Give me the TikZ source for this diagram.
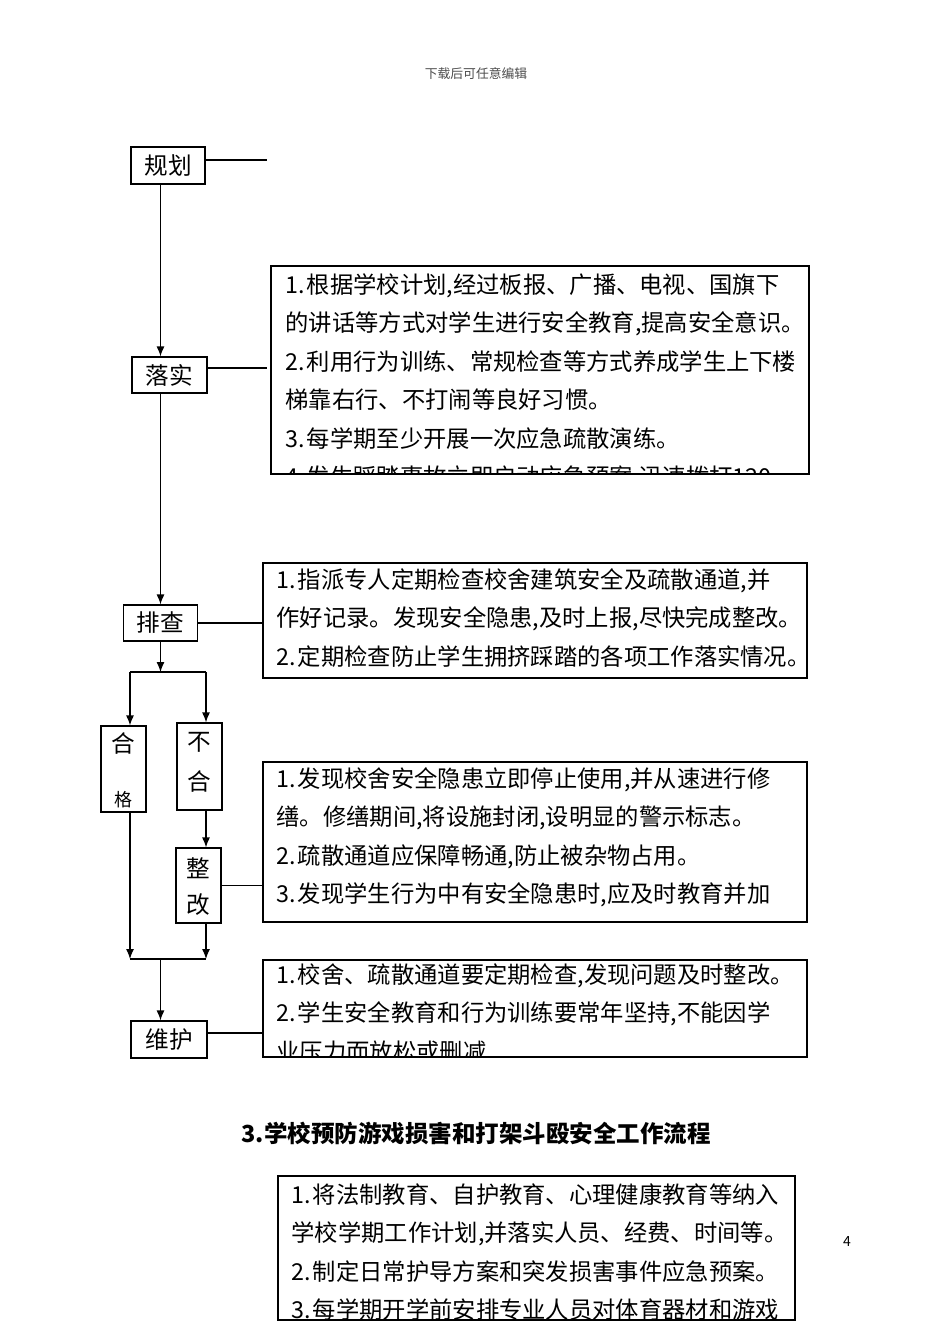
\documentclass[tikz,border=0pt]{standalone}
\usepackage{fontspec}
\usetikzlibrary{arrows.meta}
\newfontfamily\cjk{Noto Sans CJK SC}
\newcommand{\tiao}[1]{#1.\hspace{1pt}}
\begin{document}
\begin{tikzpicture}[>={Latex[length=5pt,width=4pt]}, x=.5pt, y=-.5pt, line width=.6pt,
    kuang/.style={draw, inner sep=0pt, font=\cjk\fontsize{11.8}{12}\selectfont},
    wenkuang/.style={draw, inner sep=0pt},
    wenzi/.style={anchor=north west, inner sep=0pt, align=left, font=\cjk\fontsize{11.65}{19.25}\selectfont},
    zi/.style={inner sep=0pt, font=\cjk\fontsize{11.8}{12}\selectfont}]
\useasboundingbox[fill=white] (0,0) rectangle (950,1344);
\node[text=black!70, font=\cjk\fontsize{6.4}{7}\selectfont] (yemei) at (476,74) {下载后可任意编辑};

% left column
\node[kuang, minimum width=37pt, minimum height=18.5pt] (guihua) at (168,165.5) {规划};
\node[kuang, minimum width=37.5pt, minimum height=18pt] (luoshi) at (169.5,375) {落实};
\node[kuang, minimum width=37pt, minimum height=18pt] (paicha) at (160.5,623) {排查};
\node[kuang, minimum width=22.5pt, minimum height=43pt] (hege) at (123.5,769) {};
\node[zi] (hege1) at (123.5,743) {合};
\node[zi, font=\cjk\fontsize{9}{9}\selectfont] (hege2) at (123.5,800) {格};
\node[kuang, minimum width=22.5pt, minimum height=43.5pt] (buhege) at (199.5,766.5) {};
\node[zi] (buhege1) at (199.5,742) {不};
\node[zi] (buhege2) at (199.5,781) {合};
\node[kuang, minimum width=22.5pt, minimum height=37.5pt] (zhenggai) at (198.5,885.5) {};
\node[zi] (zhenggai1) at (198.5,868) {整};
\node[zi] (zhenggai2) at (198.5,905) {改};
\node[kuang, minimum width=38pt, minimum height=18.5pt] (weihu) at (169,1039.5) {维护};

% text boxes
\node[wenkuang, minimum width=269pt, minimum height=104pt] (yi) at (540,370) {};
\node[wenkuang, minimum width=272pt, minimum height=57.5pt] (er) at (535,620.5) {};
\node[wenkuang, minimum width=272pt, minimum height=80pt] (san) at (535,842) {};
\node[wenkuang, minimum width=272pt, minimum height=48.5pt] (si) at (535,1008.5) {};
\node[wenkuang, minimum width=258.5pt, minimum height=72pt] (wu) at (536.5,1248) {};

\begin{scope}
\clip (yi.south west) rectangle (yi.north east);
\node[wenzi] (yiwen) at (285,273) {\tiao1根据学校计划,经过板报、广播、电视、国旗下\\
的讲话等方式对学生进行安全教育,提高安全意识。\\
\tiao2利用行为训练、常规检查等方式养成学生上下楼\\
梯靠右行、不打闹等良好习惯。\\
\tiao3每学期至少开展一次应急疏散演练。\\
\tiao4发生踩踏事故立即启动应急预案,迅速拨打120};
\end{scope}
\node[wenzi] (erwen) at (276,568) {\tiao1指派专人定期检查校舍建筑安全及疏散通道,并\\
作好记录。发现安全隐患,及时上报,尽快完成整改。\\
\tiao2定期检查防止学生拥挤踩踏的各项工作落实情况。};
\node[wenzi] (sanwen) at (276,767) {\tiao1发现校舍安全隐患立即停止使用,并从速进行修\\
缮。修缮期间,将设施封闭,设明显的警示标志。\\
\tiao2疏散通道应保障畅通,防止被杂物占用。\\
\tiao3发现学生行为中有安全隐患时,应及时教育并加};
\begin{scope}
\clip (si.south west) rectangle (si.north east);
\node[wenzi] (siwen) at (276,963) {\tiao1校舍、疏散通道要定期检查,发现问题及时整改。\\
\tiao2学生安全教育和行为训练要常年坚持,不能因学\\
业压力而放松或删减};
\end{scope}

\node[font=\cjk\bfseries\fontsize{11.75}{12}\selectfont] (biaoti) at (476,1133) {3.学校预防游戏损害和打架斗殴安全工作流程};
\begin{scope}
\clip (wu.south west) rectangle (wu.north east);
\node[wenzi] (wuwen) at (291,1183) {\tiao1将法制教育、自护教育、心理健康教育等纳入\\
学校学期工作计划,并落实人员、经费、时间等。\\
\tiao2制定日常护导方案和突发损害事件应急预案。\\
\tiao3每学期开学前安排专业人员对体育器材和游戏};
\end{scope}
\node[font=\cjk\fontsize{7}{7}\selectfont] (yema) at (847,1241) {4};

% connectors
\coordinate (gh) at (267,160);
\coordinate (ls) at (267,368);
\coordinate (wh) at (263,1033);
\draw (guihua.east |- gh) -- (gh);
\draw (luoshi.east |- ls) -- (ls);
\draw (paicha.east) -- (paicha.east -| er.west);
\draw (zhenggai.east) -- (zhenggai.east -| san.west);
\draw (weihu.east |- wh) -- (si.west |- wh);

\draw[->] (guihua.south -| paicha) -- (luoshi.north -| paicha);
\draw[->] (luoshi.south -| paicha) -- (paicha.north);
\coordinate (fen) at (160.5,672);
\coordinate (fenL) at (130,672);
\coordinate (fenR) at (206,672);
\draw[->] (paicha.south) -- (fen);
\draw (fenL) -- (fenR);
\draw[->] (fenL) -- (fenL |- hege.north);
\draw[->] (fenR) -- (fenR |- buhege.north);
\draw[->] (buhege.south -| fenR) -- (zhenggai.north -| fenR);
\coordinate (he) at (160.5,959);
\coordinate (heL) at (130,959);
\coordinate (heR) at (206,959);
\draw[->] (hege.south -| heL) -- (heL);
\draw[->] (zhenggai.south -| heR) -- (heR);
\draw (heL) -- (heR);
\draw[->] (he) -- (he |- weihu.north);
\end{tikzpicture}
\end{document}
